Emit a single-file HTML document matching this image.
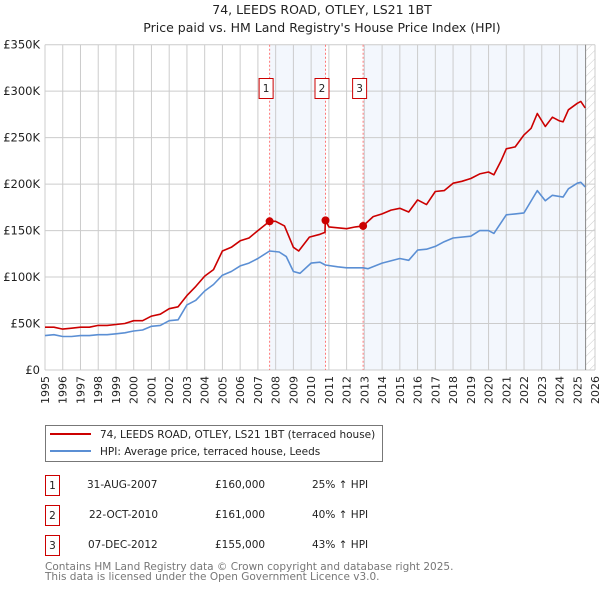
<!DOCTYPE html>
<html><head><meta charset="utf-8"><style>
body{margin:0;background:#fff;}
svg{display:block;font-family:"DejaVu Sans","Liberation Sans",sans-serif;}
</style></head><body>
<svg id="chart" width="600" height="590" viewBox="0 0 600 590">
<defs>
<pattern id="hatch" width="6" height="6" patternUnits="userSpaceOnUse" patternTransform="rotate(45)">
<line x1="0" y1="0" x2="0" y2="6" stroke="#ccc" stroke-width="1"/>
</pattern>
</defs>
<text x="322" y="14" text-anchor="middle" font-size="12.5" fill="#222">74, LEEDS ROAD, OTLEY, LS21 1BT</text>
<text x="322" y="32" text-anchor="middle" font-size="12.5" fill="#222">Price paid vs. HM Land Registry's House Price Index (HPI)</text>
<g id="plot"></g>
<g>
<rect x="45.5" y="425.5" width="337" height="36" fill="#fff" stroke="#777"/>
<line x1="50" y1="434" x2="91" y2="434" stroke="#cc0000" stroke-width="2"/>
<text x="100" y="438" font-size="10.5" fill="#222">74, LEEDS ROAD, OTLEY, LS21 1BT (terraced house)</text>
<line x1="50" y1="451" x2="91" y2="451" stroke="#5b8fd4" stroke-width="2"/>
<text x="100" y="455" font-size="10.5" fill="#222">HPI: Average price, terraced house, Leeds</text>
</g>
<g font-size="10.5" fill="#222">
<rect x="45.5" y="475.5" width="14" height="20" fill="#fff" stroke="#cc0000"/><text x="52.5" y="489" text-anchor="middle">1</text>
<text x="87" y="488">31-AUG-2007</text><text x="215" y="488">£160,000</text><text x="312" y="488">25% ↑ HPI</text>
<rect x="45.5" y="505.5" width="14" height="20" fill="#fff" stroke="#cc0000"/><text x="52.5" y="519" text-anchor="middle">2</text>
<text x="89" y="518">22-OCT-2010</text><text x="215" y="518">£161,000</text><text x="312" y="518">40% ↑ HPI</text>
<rect x="45.5" y="535.5" width="14" height="20" fill="#fff" stroke="#cc0000"/><text x="52.5" y="549" text-anchor="middle">3</text>
<text x="88" y="548">07-DEC-2012</text><text x="215" y="548">£155,000</text><text x="312" y="548">43% ↑ HPI</text>
</g>
<text x="45" y="570" font-size="10.5" fill="#777">Contains HM Land Registry data © Crown copyright and database right 2025.</text>
<text x="45" y="580" font-size="10.5" fill="#777">This data is licensed under the Open Government Licence v3.0.</text>
</svg>
<script>
const yTicks=[0,50,100,150,200,250,300,350];
const yTickLabels=["£0","£50K","£100K","£150K","£200K","£250K","£300K","£350K"];
const years=[1995,1996,1997,1998,1999,2000,2001,2002,2003,2004,2005,2006,2007,2008,2009,2010,2011,2012,2013,2014,2015,2016,2017,2018,2019,2020,2021,2022,2023,2024,2025,2026];
const redX=[1995,1995.5,1996,1996.5,1997,1997.5,1998,1998.5,1999,1999.5,2000,2000.5,2001,2001.5,2002,2002.5,2003,2003.5,2004,2004.5,2005,2005.5,2006,2006.5,2007,2007.66,2008,2008.5,2009,2009.3,2009.9,2010.5,2010.78,2010.8,2011,2011.5,2012,2012.5,2012.93,2013.5,2014,2014.5,2015,2015.5,2016,2016.5,2017,2017.5,2018,2018.5,2019,2019.5,2020,2020.3,2020.7,2021,2021.5,2022,2022.4,2022.75,2023.2,2023.6,2024,2024.2,2024.5,2025,2025.2,2025.45];
const redY=[46,46,44,45,46,46,48,48,49,50,53,53,58,60,66,68,80,90,101,108,128,132,139,142,150,160,160,155,132,128,143,146,148,161,154,153,152,154,155,165,168,172,174,170,183,178,192,193,201,203,206,211,213,210,225,238,240,253,260,276,262,272,268,267,280,287,289,282];
const blueX=[1995,1995.5,1996,1996.5,1997,1997.5,1998,1998.5,1999,1999.5,2000,2000.5,2001,2001.5,2002,2002.5,2003,2003.5,2004,2004.5,2005,2005.5,2006,2006.5,2007,2007.66,2008.2,2008.6,2009,2009.37,2010,2010.5,2010.8,2011.5,2012,2012.93,2013.2,2014,2015,2015.5,2016,2016.5,2017,2017.5,2018,2019,2019.5,2020,2020.3,2021,2021.5,2022,2022.75,2023.2,2023.6,2024.2,2024.5,2025,2025.2,2025.45];
const blueY=[37,38,36,36,37,37,38,38,39,40,42,43,47,48,53,54,70,75,85,92,102,106,112,115,120,128,127,122,106,104,115,116,113,111,110,110,109,115,120,118,129,130,133,138,142,144,150,150,147,167,168,169,193,182,188,186,195,201,202,197];
const saleX=[2007.66,2010.81,2012.93];
const saleY=[160,161,155];
const saleLabels=["1","2","3"];

const L=45,R=595,T=44.7,B=370,X0=1995,X1=2026,YMAX=350,DATA_END=2025.47;
const sx=v=>L+(v-X0)/(X1-X0)*(R-L);
const sy=v=>B-v/YMAX*(B-T);
const NS="http://www.w3.org/2000/svg";
const plot=document.getElementById('plot');
function mk(tag,attrs,parent){const e=document.createElementNS(NS,tag);for(const k in attrs)e.setAttribute(k,attrs[k]);(parent||plot).appendChild(e);return e;}

// shading
let s1=mk('rect',{x:sx(saleX[0]),y:T,width:sx(saleX[1])-sx(saleX[0]),height:B-T,fill:'#eef3fc',opacity:0.7});


let s2=mk('rect',{x:sx(saleX[2]),y:T,width:sx(DATA_END)-sx(saleX[2]),height:B-T,fill:'#eef3fc',opacity:0.7});


let hz=mk('rect',{x:sx(DATA_END),y:T,width:R-sx(DATA_END),height:B-T,fill:'url(#hatch)'});



// grid
years.forEach(y=>{
  const g=mk('line',{x1:sx(y),x2:sx(y),y1:T,y2:B,stroke:'#ccc','stroke-width':1});
  
  
  const t=mk('text',{x:0,y:0,'font-size':11,fill:'#222','text-anchor':'end',transform:`translate(${sx(y)+4},376) rotate(-90)`});
  t.textContent=y;
  
  
});
yTicks.forEach((v,i)=>{
  const g=mk('line',{x1:L,x2:R,y1:sy(v),y2:sy(v),stroke:'#ccc','stroke-width':1});
  
  
  const t=mk('text',{x:40,y:sy(v)+4,'font-size':11.5,fill:'#222','text-anchor':'end'});
  t.textContent=yTickLabels[i];
  
  
});
let de=mk('line',{x1:sx(DATA_END),x2:sx(DATA_END),y1:T,y2:B,stroke:'#888','stroke-width':1});



// sale vlines
saleX.forEach((x,i)=>{
  const l=mk('line',{x1:sx(x),x2:sx(x),y1:T,y2:B,stroke:'#ff7777','stroke-width':1,'stroke-dasharray':'2,2'});
  
  
});

function line(xs,ys,color,name){
  const d=xs.map((x,i)=>(i?'L':'M')+sx(x).toFixed(1)+','+sy(ys[i]).toFixed(1)).join('');
  const p=mk('path',{d:d,fill:'none',stroke:color,'stroke-width':1.6,'stroke-linejoin':'round'});
  
  
}
line(blueX,blueY,'#5b8fd4','hpi-line');
line(redX,redY,'#cc0000','property-price-line');

saleX.forEach((x,i)=>{
  const c=mk('circle',{cx:sx(x),cy:sy(saleY[i]),r:4,fill:'#cc0000'});
  
  
  const b=mk('rect',{x:sx(x)-10.5,y:78.5,width:14,height:20,fill:'#fff',stroke:'#cc0000'});
  
  
  const t=mk('text',{x:sx(x)-3.5,y:92,'font-size':10.5,fill:'#222','text-anchor':'middle'});
  t.textContent=saleLabels[i];
  
  
});
</script>
</body></html>
